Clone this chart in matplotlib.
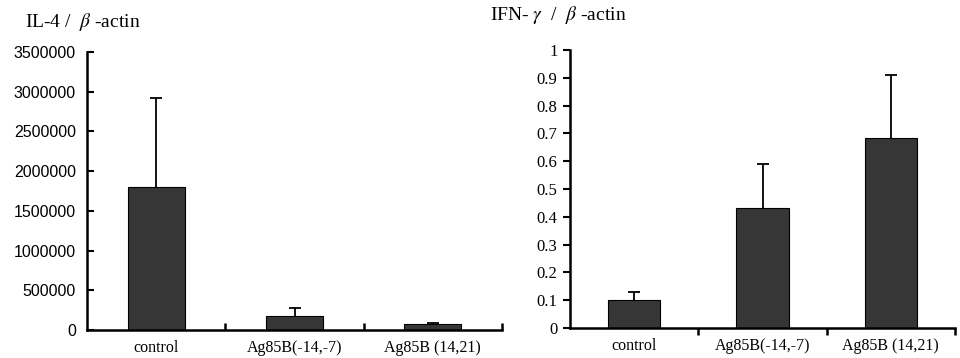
import matplotlib
matplotlib.use("Agg")
import matplotlib.pyplot as plt
import numpy as np

categories = ["control", "Ag85B(-14,-7)", "Ag85B (14,21)"]
il4_values = [1800000, 170000, 75000]
il4_err = [1125000, 105000, 15000]
ifn_values = [0.10, 0.43, 0.685]
ifn_err = [0.03, 0.16, 0.225]
il4_ticks = [0, 500000, 1000000, 1500000, 2000000, 2500000, 3000000, 3500000]
ifn_ticks = [0, 0.1, 0.2, 0.3, 0.4, 0.5, 0.6, 0.7, 0.8, 0.9, 1]
ifn_ticklabels = ["0", "0.1", "0.2", "0.3", "0.4", "0.5", "0.6", "0.7", "0.8", "0.9", "1"]

plt.rcParams["mathtext.fontset"] = "stix"
serif = "Liberation Serif"
sans = "Liberation Sans"
bar_color = "#363636"

fig = plt.figure(figsize=(9.6, 3.58), dpi=100)
ax1 = fig.add_axes([87/960, 1-330/358, (502-87)/960, (330-52)/358])
ax2 = fig.add_axes([570/960, 1-328/358, (955-570)/960, (328-50)/358])

x = np.arange(len(categories))

def style(ax, ydir):
    for s in ["top", "right"]:
        ax.spines[s].set_visible(False)
    for s in ["left", "bottom"]:
        ax.spines[s].set_linewidth(1.8)
    ax.set_xlim(-0.5, 2.5)
    ax.set_xticks([0.5, 1.5, 2.5])
    ax.set_xticklabels([])
    ax.set_xticks(x, minor=True)
    ax.set_xticklabels(categories, minor=True, fontfamily=serif, fontsize=11.5)
    ax.tick_params(axis="x", which="minor", length=0, pad=7)
    ax.tick_params(axis="x", which="major", direction=ydir, length=5, width=1.8)
    ax.tick_params(axis="y", direction=ydir, length=5, width=1.5)

def draw(ax, vals, errs):
    ax.bar(x, vals, width=0.41, color=bar_color, edgecolor="black", linewidth=0.8, zorder=2)
    _, caps, _ = ax.errorbar(x, vals, yerr=[[0]*3, errs], fmt="none", ecolor="black",
                             elinewidth=1.3, capsize=4, capthick=1.3, zorder=3)
    if len(caps) == 2:
        caps[0].set_visible(False)

# Left chart
draw(ax1, il4_values, il4_err)
ax1.set_ylim(0, 3500000)
ax1.set_yticks(il4_ticks)
ax1.set_yticklabels([str(t) for t in il4_ticks], fontfamily=sans, fontsize=11.5)
style(ax1, "in")
ax1.tick_params(axis="y", pad=8)
fig.text(25/960, 1-22/358, "IL-4 /  $\\beta$ -actin", fontfamily=serif, fontsize=14,
         va="center", ha="left")

# Right chart
draw(ax2, ifn_values, ifn_err)
ax2.set_ylim(0, 1)
ax2.set_yticks(ifn_ticks)
ax2.set_yticklabels(ifn_ticklabels, fontfamily=serif, fontsize=12)
style(ax2, "out")
ax2.tick_params(axis="y", pad=4)
fig.text(490/960, 1-15/358, "IFN- $\\gamma$  /  $\\beta$ -actin", fontfamily=serif, fontsize=14,
         va="center", ha="left")

fig.savefig("out.png", dpi=100)
